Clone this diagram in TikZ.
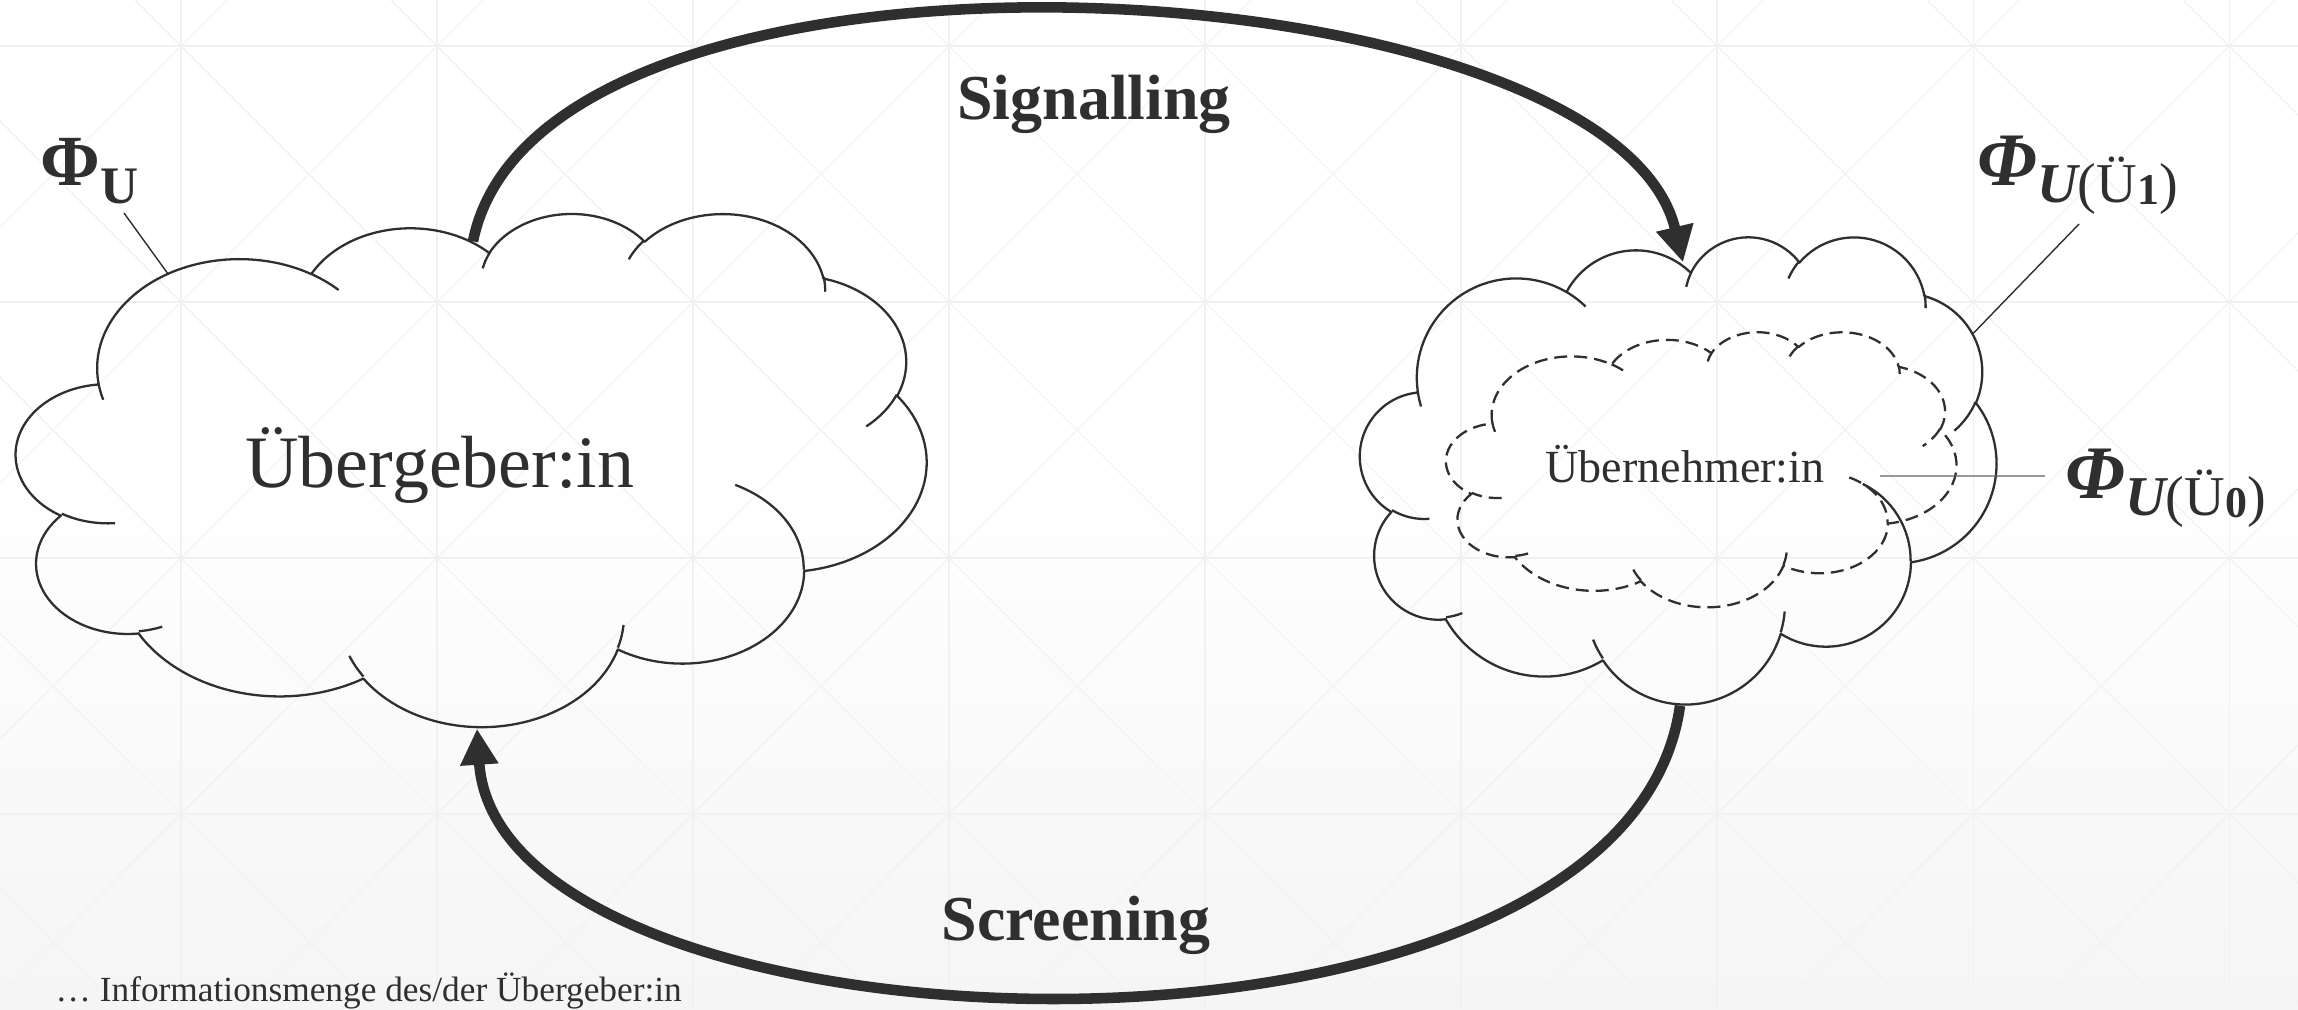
\documentclass[tikz,border=0pt]{standalone}
\usepackage{fontspec}
\setmainfont{Liberation Serif}
\usetikzlibrary{arrows.meta,calc}

\definecolor{ink}{RGB}{47,47,47}
\definecolor{gridc}{RGB}{241,241,241}
\definecolor{bgbot}{RGB}{245,245,245}

% Elliptical arc given by a visual start angle and a sweep:
% store the matching parametric start/end angles as \<name>s and \<name>e.
\newcommand\setarc[5]{%
  \pgfmathsetmacro\ootmp{atan2((#2)*sin(#4),(#3)*cos(#4))}%
  \pgfmathsetmacro\ootmpb{\ootmp+360*round(((#4)-\ootmp)/360)}%
  \expandafter\let\csname #1s\endcsname\ootmpb
  \pgfmathsetmacro\ootmp{atan2((#2)*sin((#4)+(#5)),(#3)*cos((#4)+(#5)))}%
  \pgfmathsetmacro\ootmpb{\ootmp+360*round(((#4)+(#5)-\ootmp)/360)}%
  \expandafter\let\csname #1e\endcsname\ootmpb
}
% outline puffs
\setarc{cla}{6.753}{9.190}{-190.4875}{123.7805}
\setarc{clb}{5.333}{7.267}{-144.1024}{89.9452}
\setarc{clc}{4.365}{5.945}{-145.8079}{99.7230}
\setarc{cld}{4.857}{6.595}{-130.9861}{117.2417}
\setarc{cle}{5.333}{7.273}{-78.7089}{109.0269}
\setarc{clf}{6.775}{9.220}{-46.2673}{130.2690}
\setarc{clg}{5.785}{7.867}{0.6250}{114.0333}
\setarc{clh}{6.752}{9.215}{22.4516}{115.1726}
\setarc{cli}{7.720}{10.543}{66.2426}{75.7110}
\setarc{clj}{4.360}{5.918}{-274.9421}{146.7356}
\setarc{clk}{4.345}{5.945}{-246.8285}{152.5189}
% inner tails of the puffs
\setarc{cta}{4.345}{5.945}{86.7420}{26.4295}
\setarc{ctb}{4.360}{5.918}{73.6105}{11.4475}
\setarc{ctc}{6.752}{9.215}{137.6242}{14.0811}
\setarc{ctd}{6.752}{9.215}{6.4533}{15.9984}
\setarc{cte}{5.785}{7.867}{-70.2924}{70.9174}
\setarc{ctf}{5.333}{7.273}{30.3180}{27.7515}
\setarc{ctg}{4.857}{6.595}{-13.7443}{14.8589}
\setarc{cth}{4.857}{6.595}{-149.1815}{18.1954}
\setarc{cti}{4.365}{5.945}{-163.4943}{17.6864}
\setarc{ctj}{6.753}{9.190}{-66.7070}{12.3194}
\setarc{ctk}{6.753}{9.190}{157.6544}{11.8582}

% cloud outline in a 43.2 x 43.2 box, y pointing down
\newcommand\cloudpath{%
  (3.900,14.370)
  arc[start angle=\clas, end angle=\clae, x radius=6.753, y radius=9.190]
  arc[start angle=\clbs, end angle=\clbe, x radius=5.333, y radius=7.267]
  arc[start angle=\clcs, end angle=\clce, x radius=4.365, y radius=5.945]
  arc[start angle=\clds, end angle=\clde, x radius=4.857, y radius=6.595]
  arc[start angle=\cles, end angle=\clee, x radius=5.333, y radius=7.273]
  arc[start angle=\clfs, end angle=\clfe, x radius=6.775, y radius=9.220]
  arc[start angle=\clgs, end angle=\clge, x radius=5.785, y radius=7.867]
  arc[start angle=\clhs, end angle=\clhe, x radius=6.752, y radius=9.215]
  arc[start angle=\clis, end angle=\clie, x radius=7.720, y radius=10.543]
  arc[start angle=\cljs, end angle=\clje, x radius=4.360, y radius=5.918]
  arc[start angle=\clks, end angle=\clke, x radius=4.345, y radius=5.945]
  -- cycle
}
\newcommand\cloudtails{%
  (4.693,26.177) arc[start angle=\ctas, end angle=\ctae, x radius=4.345, y radius=5.945]
  (6.928,34.899) arc[start angle=\ctbs, end angle=\ctbe, x radius=4.360, y radius=5.918]
  (16.478,39.090) arc[start angle=\ctcs, end angle=\ctce, x radius=6.752, y radius=9.215]
  (28.827,34.751) arc[start angle=\ctds, end angle=\ctde, x radius=6.752, y radius=9.215]
  (34.129,22.954) arc[start angle=\ctes, end angle=\ctee, x radius=5.785, y radius=7.867]
  (41.798,15.354) arc[start angle=\ctfs, end angle=\ctfe, x radius=5.333, y radius=7.273]
  (38.324,5.426) arc[start angle=\ctgs, end angle=\ctge, x radius=4.857, y radius=6.595]
  (29.078,3.952) arc[start angle=\cths, end angle=\cthe, x radius=4.857, y radius=6.595]
  (22.141,4.720) arc[start angle=\ctis, end angle=\ctie, x radius=4.365, y radius=5.945]
  (14.000,5.192) arc[start angle=\ctjs, end angle=\ctje, x radius=6.753, y radius=9.190]
  (4.127,15.789) arc[start angle=\ctks, end angle=\ctke, x radius=6.753, y radius=9.190]
}

\tikzset{
  cloudbox/.style={rectangle, inner sep=0pt, draw=none},
  cloudline/.style={draw=ink, line width=0.65pt, line join=round},
  dashline/.style={cloudline, dash pattern=on 1.3mm off 0.7mm},
  lbl/.style={inner sep=0pt, text=ink},
  flow/.style={draw=ink, line width=3pt, -{Triangle[length=3.6mm,width=3.6mm]}},
  leader/.style={draw=ink, line width=0.4pt},
  gridline/.style={draw=gridc, line width=0.3pt},
}

% #1 name, #2 left, #3 top, #4 width, #5 height, #6 line style
\newcommand\drawcloud[6]{%
  \node[cloudbox, minimum width=#4cm, minimum height=#5cm] (#1) at ({#2+#4/2},{-#3-#5/2}) {};
  \begin{scope}[shift={(#1.north west)}, xscale=#4/43.2, yscale=-#5/43.2]
    \draw[#6] \cloudpath \cloudtails;
  \end{scope}
}

% subscript of the receiver's information sets
\newcommand\recvsub[1]{%
  \fontsize{16pt}{19pt}\selectfont U\normalfont(Ü\raisebox{-0.8pt}{\fontsize{12.5pt}{14pt}\selectfont\bfseries #1})}

\begin{document}
\begin{tikzpicture}
\useasboundingbox (0,0) rectangle (22.98,-10.09);

% background with faint grid
\begin{scope}
  \clip (0,0) rectangle (22.98,-10.09);
  \fill[white] (0,0) rectangle (22.98,-10.09);
  \shade[top color=white, bottom color=bgbot] (0,-4.6) rectangle (22.98,-10.09);
  \foreach \k in {0,...,8} \draw[gridline] ({1.81+2.56*\k},0) -- ++(0,-10.09);
  \foreach \k in {0,...,3} \draw[gridline] (0,{-0.46-2.56*\k}) -- ++(22.98,0);
  \foreach \k in {-5,...,8} \draw[gridline] ({1.35+2.56*\k},0) -- ++(10.09,-10.09);
  \foreach \k in {-1,...,12} \draw[gridline] ({2.27+2.56*\k},0) -- ++(-10.09,-10.09);
\end{scope}

% clouds
\drawcloud{geber}{0.17}{2.13}{9.10}{5.13}{cloudline}
\drawcloud{nehmer}{13.61}{2.365}{6.36}{4.67}{cloudline}
\drawcloud{nehmerinner}{14.47}{3.32}{5.10}{2.75}{dashline}

% cloud texts
\node[lbl, anchor=base] (geberText) at (4.40,-4.87)
  {\fontsize{21.05pt}{25pt}\selectfont Übergeber:in};
\node[lbl, anchor=base] (nehmerText) at (16.85,-4.82)
  {\fontsize{13.1pt}{15pt}\selectfont Übernehmer:in};

% flows between the parties
\draw[flow] ($(geber.north)+(0.01,-0.29)$) .. controls +(0.68,3.40) and +(-0.71,3.00) .. ($(nehmer.north)+(0.04,-0.265)$);
\draw[flow] ($(nehmer.south)+(0.01,-0.015)$) .. controls +(-0.56,-4.00) and +(0.22,-3.40) .. ($(geber.south)+(0.05,-0.02)$);

\node[lbl, anchor=base] (sig) at (10.94,-1.19)
  {\fontsize{18.2pt}{21pt}\selectfont\bfseries Signalling};
\node[lbl, anchor=base] (scr) at (10.76,-9.40)
  {\fontsize{18.2pt}{21pt}\selectfont\bfseries Screening};

% information sets
\node[lbl, anchor=base west] (phiU) at (0.40,-1.85)
  {\fontsize{20.5pt}{24pt}\selectfont\bfseries Φ\raisebox{-5.4pt}{\fontsize{15pt}{18pt}\selectfont U}};
\node[lbl, anchor=base west] (phiOne) at (19.77,-1.85)
  {\fontsize{21.5pt}{25pt}\selectfont\bfseries\itshape Φ\raisebox{-4.85pt}{\recvsub{1}}};
\node[lbl, anchor=base west] (phiZero) at (20.65,-4.98)
  {\fontsize{21.5pt}{25pt}\selectfont\bfseries\itshape Φ\raisebox{-4.85pt}{\recvsub{0}}};

\draw[leader] ($(phiU.base west)+(0.84,-0.28)$) -- ($(geber.north west)+(1.52,-0.62)$);
\draw[leader] ($(phiOne.base west)+(1.02,-0.39)$) -- ($(nehmer.north west)+(6.13,-0.975)$);
\coordinate (zeroFoot) at (18.80,-4.76);
\draw[leader, draw=ink!75] (zeroFoot) -- ($(phiZero.base west)+(-0.20,0.22)$);

% legend
\node[lbl, anchor=base west] (note) at (0.55,-10.01)
  {\fontsize{10.05pt}{12pt}\selectfont … Informationsmenge des/der Übergeber:in};
\end{tikzpicture}
\end{document}
